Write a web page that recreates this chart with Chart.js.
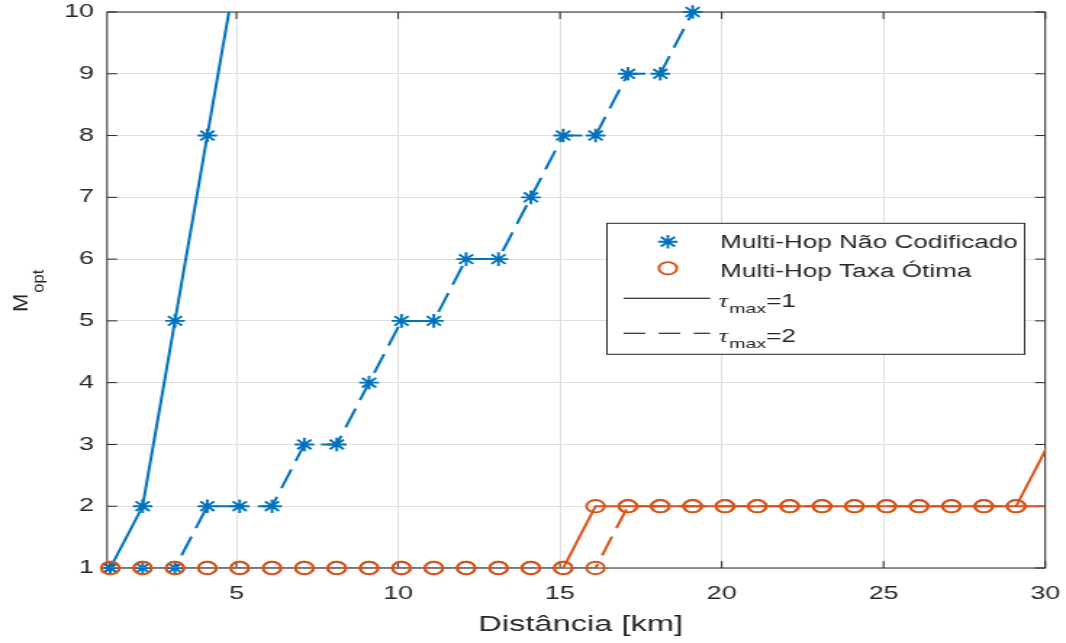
<!DOCTYPE html>
<html>
<head>
<meta charset="utf-8">
<script src="https://cdn.jsdelivr.net/npm/chart.js"></script>
<style>
  html, body { margin: 0; padding: 0; background: #fff; overflow: hidden; }
  /* the figure is drawn narrow and widened on screen */
  #mopt { display: block; transform: scaleX(1.4503); transform-origin: 0 0; }
</style>
</head>
<body>
<canvas id="mopt" width="735" height="643"></canvas>
<script>
// distance of each simulated point [km]
const distancia = [1.1, 2.1, 3.1, 4.1, 5.1, 6.1, 7.1, 8.1, 9.1, 10.1,
  11.1, 12.1, 13.1, 14.1, 15.1, 16.1, 17.1, 18.1, 19.1, 20.1,
  21.1, 22.1, 23.1, 24.1, 25.1, 26.1, 27.1, 28.1, 29.1, 30.1];

// optimal number of hops, uncoded multi-hop
const naoCodTau1 = [1, 2, 5, 8, 11];
const naoCodTau2 = [1, 1, 1, 2, 2, 2, 3, 3, 4, 5, 5, 6, 6, 7, 8, 8, 9, 9, 10];

// optimal number of hops, optimal-rate multi-hop
const otimaTau1 = [1, 1, 1, 1, 1, 1, 1, 1, 1, 1, 1, 1, 1, 1, 1,
  2, 2, 2, 2, 2, 2, 2, 2, 2, 2, 2, 2, 2, 2, 3];
const otimaTau2 = [1, 1, 1, 1, 1, 1, 1, 1, 1, 1, 1, 1, 1, 1, 1, 1,
  2, 2, 2, 2, 2, 2, 2, 2, 2, 2, 2, 2, 2, 2];

const xTicks = [5, 10, 15, 20, 25, 30];
const yTicks = [1, 2, 3, 4, 5, 6, 7, 8, 9, 10];

const X_MIN = 1, X_MAX = 30, Y_MIN = 1, Y_MAX = 10;
const AZUL = "#0072BD";
const LARANJA = "#D95319";
const PRETO = "#262626";
const FONTE = '"Liberation Sans", Arial, Helvetica, sans-serif';
const TRACO = [20, 9];

function pontos(ys) {
  return ys.map((y, i) => ({ x: distancia[i], y: y }));
}

function dentro(p) {
  return p.x >= X_MIN && p.x <= X_MAX && p.y >= Y_MIN && p.y <= Y_MAX;
}

function linha(ys, cor, dash, order) {
  return {
    data: pontos(ys),
    showLine: true,
    borderColor: cor,
    borderWidth: 2,
    borderDash: dash,
    pointRadius: 0,
    tension: 0,
    fill: false,
    clip: 0,
    order: order,
  };
}

function marcas(ys, cor, estilo, raio, order) {
  return {
    data: pontos(ys).filter(dentro),
    showLine: false,
    pointStyle: estilo,
    pointRadius: raio,
    pointBorderWidth: 1.9,
    pointBorderColor: cor,
    pointBackgroundColor: "rgba(0,0,0,0)",
    clip: false,
    order: order,
  };
}

// box around the axes, with inward ticks on all four sides
const moldura = {
  id: "moldura",
  beforeDatasetsDraw(chart) {
    const ctx = chart.ctx;
    const a = chart.chartArea;
    const sx = chart.scales.x, sy = chart.scales.y;
    const t = 7;
    ctx.save();
    ctx.strokeStyle = PRETO;
    ctx.lineWidth = 1;
    ctx.strokeRect(a.left, a.top, a.right - a.left, a.bottom - a.top);
    ctx.beginPath();
    xTicks.forEach(v => {
      const px = sx.getPixelForValue(v);
      ctx.moveTo(px, a.bottom); ctx.lineTo(px, a.bottom - t);
      ctx.moveTo(px, a.top); ctx.lineTo(px, a.top + t);
    });
    yTicks.forEach(v => {
      const py = sy.getPixelForValue(v);
      ctx.moveTo(a.left, py); ctx.lineTo(a.left + t, py);
      ctx.moveTo(a.right, py); ctx.lineTo(a.right - t, py);
    });
    ctx.stroke();
    ctx.restore();
  },
};

function estrela(ctx, x, y, r) {
  const d = r * Math.cos(Math.PI / 4);
  ctx.beginPath();
  ctx.moveTo(x - r, y); ctx.lineTo(x + r, y);
  ctx.moveTo(x, y - r); ctx.lineTo(x, y + r);
  ctx.moveTo(x - d, y - d); ctx.lineTo(x + d, y + d);
  ctx.moveTo(x - d, y + d); ctx.lineTo(x + d, y - d);
  ctx.stroke();
}

function textoTau(ctx, x, y, sub, resto) {
  ctx.font = 'italic 18px "Liberation Serif", "DejaVu Serif", serif';
  ctx.fillText("\u03C4", x, y);
  x += ctx.measureText("\u03C4").width + 1;
  ctx.font = "13.5px " + FONTE;
  ctx.fillText(sub, x, y + 6.5);
  x += ctx.measureText(sub).width;
  ctx.font = "18px " + FONTE;
  ctx.fillText(resto, x, y);
}

// axis titles and the legend
const rotulos = {
  id: "rotulos",
  afterDraw(chart) {
    const ctx = chart.ctx;
    ctx.save();
    ctx.fillStyle = PRETO;
    ctx.textBaseline = "alphabetic";

    ctx.font = "22.5px " + FONTE;
    ctx.textAlign = "center";
    ctx.fillText("Distância [km]", 400.3, 631);

    ctx.save();
    ctx.translate(18.5, 312);
    ctx.rotate(-Math.PI / 2);
    ctx.scale(1, 1 / 1.4503);
    ctx.textAlign = "left";
    ctx.font = "22px " + FONTE;
    ctx.fillText("M", 0, 0);
    const wm = ctx.measureText("M").width;
    ctx.font = "16.5px " + FONTE;
    ctx.fillText("opt", wm + 1, 17);
    ctx.restore();

    // legend
    ctx.textAlign = "left";
    ctx.fillStyle = "#fff";
    ctx.fillRect(418.5, 223.3, 288, 131);
    ctx.strokeStyle = PRETO;
    ctx.lineWidth = 1;
    ctx.strokeRect(418.5, 223.3, 288, 131);

    ctx.lineWidth = 1.9;
    ctx.strokeStyle = AZUL;
    estrela(ctx, 460.5, 241.7, 6.8);
    ctx.strokeStyle = LARANJA;
    ctx.beginPath();
    ctx.arc(460.5, 268.3, 6.2, 0, Math.PI * 2);
    ctx.stroke();

    ctx.fillStyle = PRETO;
    ctx.font = "18px " + FONTE;
    ctx.fillText("Multi-Hop Não Codificado", 496.6, 248.3);
    ctx.fillText("Multi-Hop Taxa Ótima", 496.6, 276.7);

    ctx.strokeStyle = "#000";
    ctx.lineWidth = 1.1;
    ctx.beginPath();
    ctx.moveTo(429.9, 298.3); ctx.lineTo(489.7, 298.3);
    ctx.stroke();
    ctx.setLineDash([15, 9.2]);
    ctx.beginPath();
    ctx.moveTo(429.9, 333.3); ctx.lineTo(489.7, 333.3);
    ctx.stroke();
    ctx.setLineDash([]);

    textoTau(ctx, 495.4, 306.5, "max", "=1");
    textoTau(ctx, 495.4, 341.7, "max", "=2");
    ctx.restore();
  },
};

const ctx = document.getElementById("mopt").getContext("2d");
const grafico = new Chart(ctx, {
  type: "scatter",
  data: {
    datasets: [
      linha(naoCodTau1, AZUL, [], 8),
      marcas(naoCodTau1, AZUL, "star", 6.8, 7),
      linha(naoCodTau2, AZUL, TRACO, 6),
      marcas(naoCodTau2, AZUL, "star", 6.8, 5),
      linha(otimaTau1, LARANJA, [], 4),
      marcas(otimaTau1, LARANJA, "circle", 6.2, 3),
      linha(otimaTau2, LARANJA, TRACO, 2),
      marcas(otimaTau2, LARANJA, "circle", 6.2, 1),
    ],
  },
  options: {
    responsive: false,
    animation: false,
    events: [],
    layout: { padding: { top: 12, right: 14.3, left: 0, bottom: 0 } },
    plugins: {
      legend: { display: false },
      tooltip: { enabled: false },
    },
    scales: {
      x: {
        type: "linear",
        min: X_MIN,
        max: X_MAX,
        afterBuildTicks: s => { s.ticks = xTicks.map(v => ({ value: v })); },
        afterFit: s => {
          s.height = 75;
          s.paddingLeft = 0; s.paddingRight = 0;
        },
        grid: { color: "#dfdfdf", lineWidth: 1, drawTicks: false },
        border: { display: false },
        ticks: {
          color: PRETO,
          font: { family: FONTE, size: 18.5 },
          padding: 15,
          maxRotation: 0,
          autoSkip: false,
        },
      },
      y: {
        type: "linear",
        min: Y_MIN,
        max: Y_MAX,
        afterBuildTicks: s => { s.ticks = yTicks.map(v => ({ value: v })); },
        afterFit: s => {
          s.width = 73.8;
          s.paddingTop = 0; s.paddingBottom = 0;
        },
        grid: { color: "#dfdfdf", lineWidth: 1, drawTicks: false },
        border: { display: false },
        ticks: {
          color: PRETO,
          font: { family: FONTE, size: 18.5 },
          padding: 9,
          autoSkip: false,
        },
      },
    },
  },
  plugins: [moldura, rotulos],
});
</script>
</body>
</html>
